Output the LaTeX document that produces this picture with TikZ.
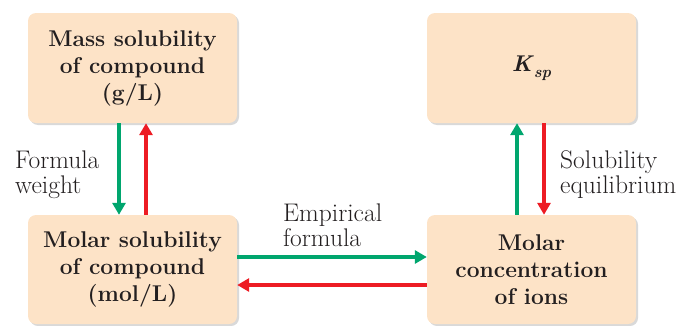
\documentclass[tikz,border=0pt]{standalone}
\usetikzlibrary{arrows.meta,shadows}
\definecolor{boxfill}{RGB}{253,227,199}
\definecolor{agreen}{RGB}{0,166,110}
\definecolor{ared}{RGB}{237,28,36}
\definecolor{ink}{RGB}{35,31,32}
\begin{document}
\begin{tikzpicture}[x=1pt,y=1pt,
  box/.style={draw=none, fill=boxfill, rounded corners=8pt, minimum width=209pt, minimum height=110pt,
    align=center, font=\fontsize{22.8}{27}\selectfont\bfseries, text=ink, inner sep=0pt,
    drop shadow={shadow xshift=2pt, shadow yshift=-2pt, opacity=0.25, fill=black!60}},
  lbl/.style={align=left, font=\fontsize{25.5}{25}\selectfont, text=ink, inner sep=0pt},
  garrow/.style={draw=agreen, line width=3.5pt, -{Triangle[length=12pt,width=13pt]}},
  rarrow/.style={draw=ared, line width=3.5pt, -{Triangle[length=12pt,width=13pt]}}]
\useasboundingbox (0,0) rectangle (687,325);
\node[box] (mass) at (132.5,257) {Mass solubility\\of compound\\(g/L)};
\node[box] (ksp) at (531.5,257) {\textit{K}\raisebox{-0.28em}{\fontsize{16}{16}\selectfont\textit{sp}}};
\node[box, minimum height=109pt] (molar) at (132.5,55.5) {Molar solubility\\of compound\\(mol/L)};
\node[box, minimum height=109pt] (ions) at (531.5,55.5) {Molar\\concentration\\of ions};
\draw[garrow] ([xshift=-13.5pt]mass.south) -- ([xshift=-13.5pt]molar.north);
\draw[rarrow] ([xshift=13.5pt]molar.north) -- ([xshift=13.5pt]mass.south);
\draw[garrow] ([xshift=-14.5pt]ions.north) -- ([xshift=-14.5pt]ksp.south);
\draw[rarrow] ([xshift=12.5pt]ksp.south) -- ([xshift=12.5pt]ions.north);
\draw[garrow] ([yshift=12.5pt]molar.east) -- ([yshift=12.5pt]ions.west);
\draw[rarrow] ([yshift=-15.5pt]ions.west) -- ([yshift=-15.5pt]molar.east);
\node[lbl, anchor=west] (fw) at (15,150) {Formula\\weight};
\node[lbl, anchor=west] (se) at (560,150) {Solubility\\equilibrium};
\node[lbl, anchor=west] (ef) at (283,100) {Empirical\\formula};
\end{tikzpicture}
\end{document}
